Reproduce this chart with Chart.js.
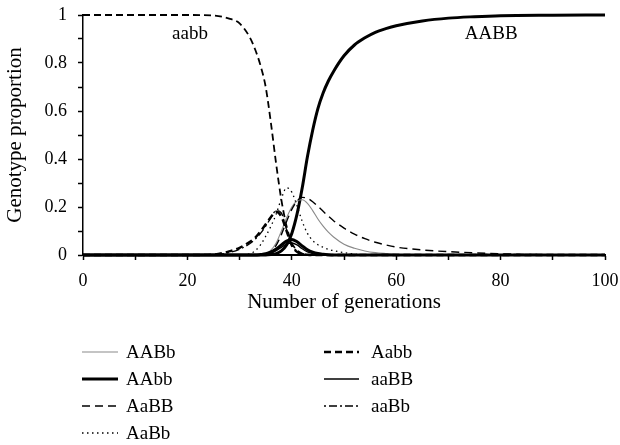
<!DOCTYPE html>
<html><head><meta charset="utf-8">
<script src="https://cdn.jsdelivr.net/npm/chart.js@4.4.1/dist/chart.umd.min.js"></script>
<style>html,body{margin:0;padding:0;background:#fff;} #wrap{width:620px;height:445px;}</style>
</head><body><div id="wrap"><canvas id="c" width="620" height="445"></canvas></div>
<script>
// ---- data ----
const generations = [0,20,25,28,30,32,33,34,35,36,37,38,39,40,41,42,43,44,45,46,47,48,50,52,54,56,58,60,65,70,75,80,90,100];
const aabb = [1,1,0.998,0.985,0.965,0.905,0.855,0.79,0.7,0.55,0.38,0.23,0.12,0.05,0.02,0.006,0.002,0,0,0,0,0,0,0,0,0,0,0,0,0,0,0,0,0];
const AABB = [0,0,0,0,0,0,0,0,0,0.002,0.006,0.017,0.042,0.09,0.17,0.28,0.41,0.52,0.61,0.675,0.725,0.765,0.83,0.875,0.905,0.928,0.943,0.955,0.975,0.987,0.993,0.997,0.999,1];
const AABb = [0,0,0,0,0,0,0,0.002,0.006,0.02,0.05,0.1,0.155,0.2,0.225,0.23,0.215,0.185,0.15,0.12,0.095,0.075,0.045,0.028,0.017,0.01,0.006,0.003,0.001,0,0,0,0,0];
const AAbb = [0,0,0,0,0,0,0,0.002,0.005,0.012,0.025,0.042,0.058,0.065,0.055,0.038,0.022,0.012,0.006,0.003,0.001,0,0,0,0,0,0,0,0,0,0,0,0,0];
const AaBB = [0,0,0,0,0,0,0,0.001,0.004,0.015,0.04,0.085,0.14,0.19,0.225,0.24,0.236,0.222,0.203,0.182,0.162,0.143,0.112,0.087,0.068,0.053,0.042,0.033,0.021,0.014,0.009,0.005,0.001,0];
const AaBb = [0,0,0,0,0.001,0.006,0.018,0.042,0.078,0.12,0.17,0.235,0.28,0.262,0.205,0.14,0.09,0.06,0.043,0.032,0.024,0.018,0.01,0.004,0.001,0,0,0,0,0,0,0,0,0];
const Aabb = [0,0,0.002,0.015,0.03,0.055,0.072,0.098,0.128,0.158,0.18,0.16,0.1,0.04,0.013,0.004,0.001,0,0,0,0,0,0,0,0,0,0,0,0,0,0,0,0,0];
const aaBB = [0,0,0,0,0,0,0,0,0.003,0.008,0.018,0.032,0.045,0.05,0.042,0.026,0.013,0.006,0.002,0,0,0,0,0,0,0,0,0,0,0,0,0,0,0];
const aaBb = [0,0,0.001,0.01,0.024,0.048,0.066,0.09,0.12,0.155,0.185,0.175,0.105,0.045,0.015,0.004,0.001,0,0,0,0,0,0,0,0,0,0,0,0,0,0,0,0,0];

const xTickLabels = ['0','20','40','60','80','100'];
const yTickLabels = ['0','0.2','0.4','0.6','0.8','1'];
const curveLabels = [{text:'aabb', x:20.5, y:0.9}, {text:'AABB', x:78.2, y:0.9}];

// ---- styles ----
const FONT = "'Liberation Serif', 'Times New Roman', serif";
const styleOf = {
  AABb: {borderColor:'#8a8a8a', borderWidth:1.1, borderDash:[]},
  AAbb: {borderColor:'#000', borderWidth:3, borderDash:[]},
  AaBB: {borderColor:'#000', borderWidth:1.4, borderDash:[8,5]},
  AaBb: {borderColor:'#000', borderWidth:1.3, borderDash:[1.5,3.5]},
  Aabb: {borderColor:'#000', borderWidth:2.4, borderDash:[7,4]},
  aaBB: {borderColor:'#000', borderWidth:1.4, borderDash:[]},
  aaBb: {borderColor:'#000', borderWidth:1.3, borderDash:[2,3,8,3]},
  aabb: {borderColor:'#000', borderWidth:1.8, borderDash:[7,4]},
  AABB: {borderColor:'#000', borderWidth:3, borderDash:[]}
};
const seriesData = {AABb, AAbb, AaBB, AaBb, Aabb, aaBB, aaBb, aabb, AABB};
const drawOrder = ['aaBb','Aabb','AaBb','aaBB','AAbb','AaBB','AABb','aabb','AABB'];
const legendCols = [['AABb','AAbb','AaBB','AaBb'], ['Aabb','aaBB','aaBb']];

const datasets = drawOrder.map(name => Object.assign({
  label: name,
  data: generations.map((g,i) => ({x:g, y:seriesData[name][i]})),
  fill:false, pointRadius:0, cubicInterpolationMode:'monotone', clip:6
}, styleOf[name]));

const overlay = {
  id:'overlay',
  afterDraw(chart){
    const ctx = chart.ctx, xs = chart.scales.x, ys = chart.scales.y;
    ctx.save();
    ctx.fillStyle = '#000';
    ctx.font = '19px ' + FONT;
    ctx.textAlign = 'center';
    ctx.textBaseline = 'alphabetic';
    curveLabels.forEach(l => ctx.fillText(l.text, xs.getPixelForValue(l.x), ys.getPixelForValue(l.y)));
    // legend
    const cols = [{x0:82, x1:118, tx:126}, {x0:324, x1:359, tx:371}];
    ctx.textAlign = 'left';
    ctx.textBaseline = 'middle';
    legendCols.forEach((col, ci) => {
      col.forEach((name, ri) => {
        const y = 352 + ri * 27;
        const st = styleOf[name];
        ctx.beginPath();
        ctx.strokeStyle = st.borderColor;
        ctx.lineWidth = st.borderWidth;
        ctx.setLineDash(st.borderDash);
        ctx.moveTo(cols[ci].x0, y);
        ctx.lineTo(cols[ci].x1, y);
        ctx.stroke();
        ctx.setLineDash([]);
        ctx.fillStyle = '#000';
        ctx.fillText(name, cols[ci].tx, y + 1);
      });
    });
    ctx.restore();
  }
};

new Chart(document.getElementById('c'), {
  type:'line',
  data:{datasets},
  plugins:[overlay],
  options:{
    responsive:false, animation:false, devicePixelRatio:1,
    layout:{padding:{left:0, right:15, top:15, bottom:130}},
    plugins:{legend:{display:false}, tooltip:{enabled:false}},
    scales:{
      x:{
        type:'linear', min:0, max:100,
        border:{color:'#000', width:2},
        grid:{display:true, drawOnChartArea:false, drawTicks:true, tickLength:5, tickColor:'#000', tickWidth:1.5},
        ticks:{stepSize:10, autoSkip:false, maxRotation:0, padding:10, color:'#000', font:{family:FONT, size:18},
          callback:v => { const s = String(Math.round(v)); return xTickLabels.includes(s) ? s : ''; }},
        title:{display:true, text:'Number of generations', color:'#000', font:{family:FONT, size:21}, padding:{top:0, bottom:0}},
        afterFit(s){ s.height = 60; s.paddingLeft = 0; s.paddingRight = 0; }
      },
      y:{
        type:'linear', min:0, max:1,
        border:{color:'#000', width:1.5},
        grid:{display:true, drawOnChartArea:false, drawTicks:true, tickLength:5, tickColor:'#000', tickWidth:1.5},
        ticks:{stepSize:0.1, autoSkip:false, padding:11, color:'#000', font:{family:FONT, size:18},
          callback:v => { const s = String(Math.round(v*10)/10); return yTickLabels.includes(s) ? s : ''; }},
        title:{display:true, text:'Genotype proportion', color:'#000', font:{family:FONT, size:21}, padding:{top:3, bottom:0}},
        afterFit(s){ s.width = 83; s.paddingTop = 0; s.paddingBottom = 0; }
      }
    }
  }
});
</script>
</body></html>
